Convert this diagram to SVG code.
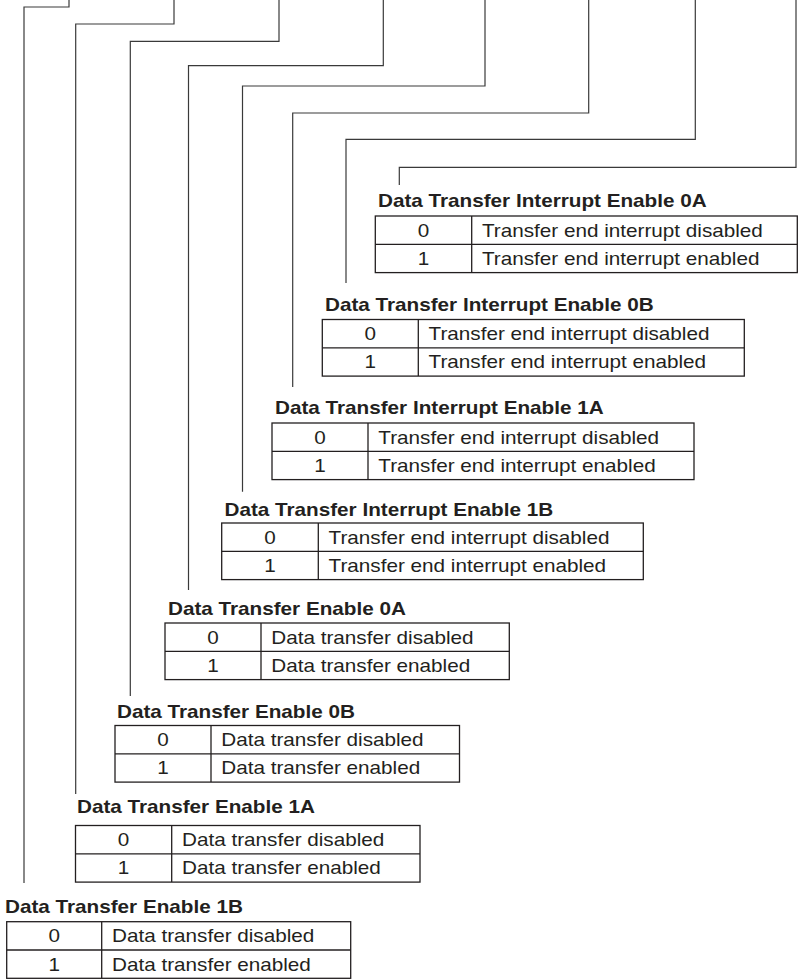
<svg xmlns="http://www.w3.org/2000/svg" width="800" height="979" viewBox="0 0 800 979">
<style>
  .bg { fill: #ffffff; }
  .conn { fill: none; stroke: #3a3a3a; stroke-width: 1.2; }
  .tbl { fill: none; stroke: #231f20; stroke-width: 1.3; }
  .title { font-family: "Liberation Sans", Arial, sans-serif; font-weight: bold; font-size: 18px; fill: #231f20; }
  .cell { font-family: "Liberation Sans", Arial, sans-serif; font-size: 18px; fill: #231f20; }
  .val { font-family: "Liberation Sans", Arial, sans-serif; font-size: 18px; fill: #231f20; text-anchor: middle; }
</style>
<rect class="bg" x="0" y="0" width="800" height="979"/>

<g id="connectors">
  <polyline class="conn" points="69,0 69,7 24,7 24,883"/>
  <polyline class="conn" points="174,0 174,24 75.7,24 75.7,794"/>
  <polyline class="conn" points="279,0 279,41.3 130.3,41.3 130.3,696"/>
  <polyline class="conn" points="383.3,0 383.3,65.7 188.5,65.7 188.5,590"/>
  <polyline class="conn" points="485,0 485,86 242.5,86 242.5,491.7"/>
  <polyline class="conn" points="588.7,0 588.7,113 292.7,113 292.7,387"/>
  <polyline class="conn" points="695.3,0 695.3,139.3 346,139.3 346,283"/>
  <polyline class="conn" points="796,0 796,167.3 399.3,167.3 399.3,185"/>
</g>

<g id="dtie0a">
  <text class="title" transform="matrix(1.15 0 0 1 378 207)">Data Transfer Interrupt Enable 0A</text>
  <rect class="tbl" x="375.3" y="216" width="422" height="56.6"/>
  <line class="tbl" x1="375.3" y1="244.3" x2="797.3" y2="244.3"/>
  <line class="tbl" x1="471.7" y1="216" x2="471.7" y2="272.6"/>
  <text class="val" transform="matrix(1.15 0 0 1 423.5 236.5)">0</text>
  <text class="val" transform="matrix(1.15 0 0 1 423.5 264.8)">1</text>
  <text class="cell" transform="matrix(1.15 0 0 1 482 236.5)">Transfer end interrupt disabled</text>
  <text class="cell" transform="matrix(1.15 0 0 1 482 264.8)">Transfer end interrupt enabled</text>
</g>

<g id="dtie0b">
  <text class="title" transform="matrix(1.15 0 0 1 325 310.5)">Data Transfer Interrupt Enable 0B</text>
  <rect class="tbl" x="322.3" y="319.5" width="422" height="56.6"/>
  <line class="tbl" x1="322.3" y1="347.8" x2="744.3" y2="347.8"/>
  <line class="tbl" x1="418.3" y1="319.5" x2="418.3" y2="376.1"/>
  <text class="val" transform="matrix(1.15 0 0 1 370.3 340)">0</text>
  <text class="val" transform="matrix(1.15 0 0 1 370.3 368.3)">1</text>
  <text class="cell" transform="matrix(1.15 0 0 1 428.6 340)">Transfer end interrupt disabled</text>
  <text class="cell" transform="matrix(1.15 0 0 1 428.6 368.3)">Transfer end interrupt enabled</text>
</g>

<g id="dtie1a">
  <text class="title" transform="matrix(1.15 0 0 1 275 414)">Data Transfer Interrupt Enable 1A</text>
  <rect class="tbl" x="272" y="423" width="422" height="56.6"/>
  <line class="tbl" x1="272" y1="451.3" x2="694" y2="451.3"/>
  <line class="tbl" x1="368" y1="423" x2="368" y2="479.6"/>
  <text class="val" transform="matrix(1.15 0 0 1 320 443.5)">0</text>
  <text class="val" transform="matrix(1.15 0 0 1 320 471.8)">1</text>
  <text class="cell" transform="matrix(1.15 0 0 1 378.3 443.5)">Transfer end interrupt disabled</text>
  <text class="cell" transform="matrix(1.15 0 0 1 378.3 471.8)">Transfer end interrupt enabled</text>
</g>

<g id="dtie1b">
  <text class="title" transform="matrix(1.15 0 0 1 224.5 516)">Data Transfer Interrupt Enable 1B</text>
  <rect class="tbl" x="221.7" y="523" width="421.6" height="56.6"/>
  <line class="tbl" x1="221.7" y1="551.3" x2="643.3" y2="551.3"/>
  <line class="tbl" x1="318.3" y1="523" x2="318.3" y2="579.6"/>
  <text class="val" transform="matrix(1.15 0 0 1 270 543.5)">0</text>
  <text class="val" transform="matrix(1.15 0 0 1 270 571.8)">1</text>
  <text class="cell" transform="matrix(1.15 0 0 1 328.6 543.5)">Transfer end interrupt disabled</text>
  <text class="cell" transform="matrix(1.15 0 0 1 328.6 571.8)">Transfer end interrupt enabled</text>
</g>

<g id="dte0a">
  <text class="title" transform="matrix(1.15 0 0 1 168 615)">Data Transfer Enable 0A</text>
  <rect class="tbl" x="165" y="623" width="344.3" height="56.6"/>
  <line class="tbl" x1="165" y1="651.3" x2="509.3" y2="651.3"/>
  <line class="tbl" x1="261" y1="623" x2="261" y2="679.6"/>
  <text class="val" transform="matrix(1.15 0 0 1 213 643.5)">0</text>
  <text class="val" transform="matrix(1.15 0 0 1 213 671.8)">1</text>
  <text class="cell" transform="matrix(1.15 0 0 1 271.3 643.5)">Data transfer disabled</text>
  <text class="cell" transform="matrix(1.15 0 0 1 271.3 671.8)">Data transfer enabled</text>
</g>

<g id="dte0b">
  <text class="title" transform="matrix(1.15 0 0 1 117 717.5)">Data Transfer Enable 0B</text>
  <rect class="tbl" x="115" y="725.5" width="344.5" height="56.6"/>
  <line class="tbl" x1="115" y1="753.8" x2="459.5" y2="753.8"/>
  <line class="tbl" x1="211" y1="725.5" x2="211" y2="782.1"/>
  <text class="val" transform="matrix(1.15 0 0 1 163 746)">0</text>
  <text class="val" transform="matrix(1.15 0 0 1 163 774.3)">1</text>
  <text class="cell" transform="matrix(1.15 0 0 1 221.3 746)">Data transfer disabled</text>
  <text class="cell" transform="matrix(1.15 0 0 1 221.3 774.3)">Data transfer enabled</text>
</g>

<g id="dte1a">
  <text class="title" transform="matrix(1.15 0 0 1 77 812.5)">Data Transfer Enable 1A</text>
  <rect class="tbl" x="75.5" y="825.5" width="344.5" height="56.6"/>
  <line class="tbl" x1="75.5" y1="853.8" x2="420" y2="853.8"/>
  <line class="tbl" x1="171.7" y1="825.5" x2="171.7" y2="882.1"/>
  <text class="val" transform="matrix(1.15 0 0 1 123.6 846)">0</text>
  <text class="val" transform="matrix(1.15 0 0 1 123.6 874.3)">1</text>
  <text class="cell" transform="matrix(1.15 0 0 1 182 846)">Data transfer disabled</text>
  <text class="cell" transform="matrix(1.15 0 0 1 182 874.3)">Data transfer enabled</text>
</g>

<g id="dte1b">
  <text class="title" transform="matrix(1.15 0 0 1 5 913)">Data Transfer Enable 1B</text>
  <rect class="tbl" x="6.7" y="921.7" width="344" height="56.6"/>
  <line class="tbl" x1="6.7" y1="950" x2="350.7" y2="950"/>
  <line class="tbl" x1="101.7" y1="921.7" x2="101.7" y2="978.3"/>
  <text class="val" transform="matrix(1.15 0 0 1 54.2 942.2)">0</text>
  <text class="val" transform="matrix(1.15 0 0 1 54.2 970.5)">1</text>
  <text class="cell" transform="matrix(1.15 0 0 1 112 942.2)">Data transfer disabled</text>
  <text class="cell" transform="matrix(1.15 0 0 1 112 970.5)">Data transfer enabled</text>
</g>
</svg>
